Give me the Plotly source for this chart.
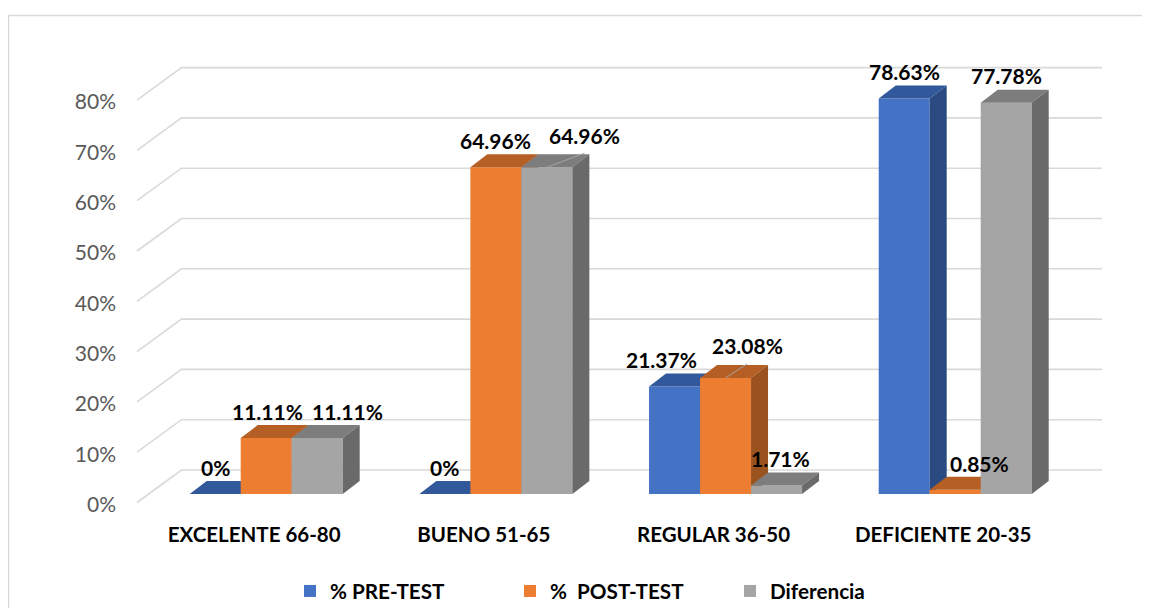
import plotly.graph_objects as go

categories = ["EXCELENTE 66-80", "BUENO 51-65", "REGULAR 36-50", "DEFICIENTE 20-35"]
series_names = ["% PRE-TEST", "%\u00a0 POST-TEST", "Diferencia"]
pre_test = [0, 0, 21.37, 78.63]
post_test = [11.11, 64.96, 23.08, 0.85]
diferencia = [11.11, 64.96, 1.71, 77.78]
y_ticks = [0, 10, 20, 30, 40, 50, 60, 70, 80]

# ---- styling / geometry, kept apart from the data ----
OX, OY = 8, 8            # page margin around the figure
W, H = 1150, 600
L, R, T, B = 125, 1110, 55, 515   # plot area in window pixels
PX_X = 229.67            # pixels per category
PX_Y = 5.03              # pixels per percentage point
X0_PX, Y0_PX = 266.2, 494
x_range = [(L - X0_PX) / PX_X, (R - X0_PX) / PX_X]
y_range = [(Y0_PX - B) / PX_Y, (Y0_PX - T) / PX_Y]

BAR_W = 51 / PX_X
DX = 17 / PX_X
DY = 13 / PX_Y
FACE = ["#4472C4", "#ED7D31", "#A5A5A5"]
TOP = ["#32589C", "#B55F25", "#7D7D7D"]
SIDE = ["#2B4A82", "#9A521E", "#6A6A6A"]
FONT = "Lato, 'Open Sans', sans-serif"

WALL_FRONT_X = (137 - X0_PX) / PX_X
WALL_BACK_X = (181.5 - X0_PX) / PX_X
WALL_END_X = (1102 - X0_PX) / PX_X
WALL_FRONT_DY = -8.5 / PX_Y
WALL_BACK_DY = 24 / PX_Y
TICK_LABEL_DY = -2 / PX_Y

# label offsets in pixels from the middle of a bar's top edge
label_dx = [[0, 0, -13, 0], [1, 0, 21.5, 24.5], [30, 37.5, 3.5, 0]]
label_up = [[26.5, 26.5, 27, 27], [26.5, 26.5, 32, 26], [26.5, 32, 26.5, 27]]
leaders = {(1, 2), (2, 1)}

fig = go.Figure()

# back wall and side wall gridlines
for v in y_ticks:
    fig.add_trace(go.Scatter(
        x=[WALL_FRONT_X, WALL_BACK_X, WALL_END_X],
        y=[v + WALL_FRONT_DY, v + WALL_BACK_DY, v + WALL_BACK_DY],
        mode="lines", line=dict(color="#D9D9D9", width=1.6),
        showlegend=False, hoverinfo="skip", xaxis="x", yaxis="y"))

annotations = []
all_series = [pre_test, post_test, diferencia]
for s, values in enumerate(all_series):
    xa, ya = f"x{s + 2}", f"y{s + 2}"
    offset = -1.5 * BAR_W + s * BAR_W
    fig.add_trace(go.Bar(
        x=list(range(len(categories))), y=values, name=series_names[s],
        width=BAR_W, offset=offset, marker=dict(color=FACE[s], line=dict(width=0)),
        xaxis=xa, yaxis=ya))
    for i, v in enumerate(values):
        x1 = i + offset
        x2 = x1 + BAR_W
        # top face
        fig.add_trace(go.Scatter(
            x=[x1, x2, x2 + DX, x1 + DX, x1], y=[v, v, v + DY, v + DY, v],
            mode="lines", fill="toself", fillcolor=TOP[s], line=dict(width=0, color=TOP[s]),
            showlegend=False, hoverinfo="skip", xaxis=xa, yaxis=ya))
        # right side face
        if v > 0:
            fig.add_trace(go.Scatter(
                x=[x2, x2 + DX, x2 + DX, x2, x2], y=[0, DY, v + DY, v, 0],
                mode="lines", fill="toself", fillcolor=SIDE[s], line=dict(width=0, color=SIDE[s]),
                showlegend=False, hoverinfo="skip", xaxis=xa, yaxis=ya))
        mid = (x1 + x2) / 2
        if (s, i) in leaders:
            fig.add_trace(go.Scatter(
                x=[mid, mid + label_dx[s][i] / PX_X], y=[v, v + 14 / PX_Y],
                mode="lines", line=dict(color="#A5A5A5", width=1),
                showlegend=False, hoverinfo="skip", xaxis=xa, yaxis=ya))
        annotations.append(dict(
            x=mid, y=v, xref="x", yref="y", text=f"<b>{v:g}%</b>", showarrow=False,
            xshift=label_dx[s][i], yshift=label_up[s][i], xanchor="center", yanchor="middle",
            font=dict(family=FONT, size=21, color="#000000")))

hidden = dict(visible=False, showgrid=False, zeroline=False)
layout_axes = {}
for k in (2, 3, 4):
    layout_axes[f"xaxis{k}"] = dict(range=x_range, overlaying="x", **hidden)
    layout_axes[f"yaxis{k}"] = dict(range=y_range, overlaying="y", **hidden)

px_x = lambda p: (p - L) / (R - L)
px_y = lambda p: (B - p) / (B - T)
frame = dict(type="line", xref="paper", yref="paper", layer="below",
             line=dict(color="#D9D9D9", width=1.6))

fig.update_layout(
    width=W, height=H, autosize=False,
    margin=dict(l=L - OX, r=OX + W - R, t=T - OY, b=OY + H - B),
    paper_bgcolor="white", plot_bgcolor="rgba(0,0,0,0)",
    barmode="overlay",
    xaxis=dict(range=x_range, tickmode="array",
               tickvals=[i - 12 / PX_X for i in range(len(categories))],
               ticktext=[f"<b>{c}</b>" for c in categories],
               tickfont=dict(family=FONT, size=20.5, color="#000000"),
               showgrid=False, zeroline=False, showline=False, ticks="",
               ticklabelstandoff=5),
    yaxis=dict(range=y_range, tickmode="array",
               tickvals=[v + WALL_FRONT_DY + TICK_LABEL_DY for v in y_ticks],
               ticktext=[f"{v}%" for v in y_ticks],
               tickfont=dict(family=FONT, size=21, color="#595959"),
               showgrid=False, zeroline=False, showline=False, ticks="",
               ticklabelstandoff=8),
    legend=dict(orientation="h", xref="container", yref="container",
                x=(290 - OX) / W, y=1 - (571 - OY) / H, xanchor="left", yanchor="top",
                entrywidth=175, entrywidthmode="pixels", traceorder="normal",
                font=dict(family=FONT, size=20.7, color="#000000", weight="bold"),
                bgcolor="rgba(0,0,0,0)"),
    annotations=annotations,
    shapes=[dict(frame, x0=px_x(8.5), x1=px_x(1158), y0=px_y(15.5), y1=px_y(15.5)),
            dict(frame, x0=px_x(8.5), x1=px_x(8.5), y0=px_y(15.5), y1=px_y(608))],
    **layout_axes)

fig.write_html("out.html")
